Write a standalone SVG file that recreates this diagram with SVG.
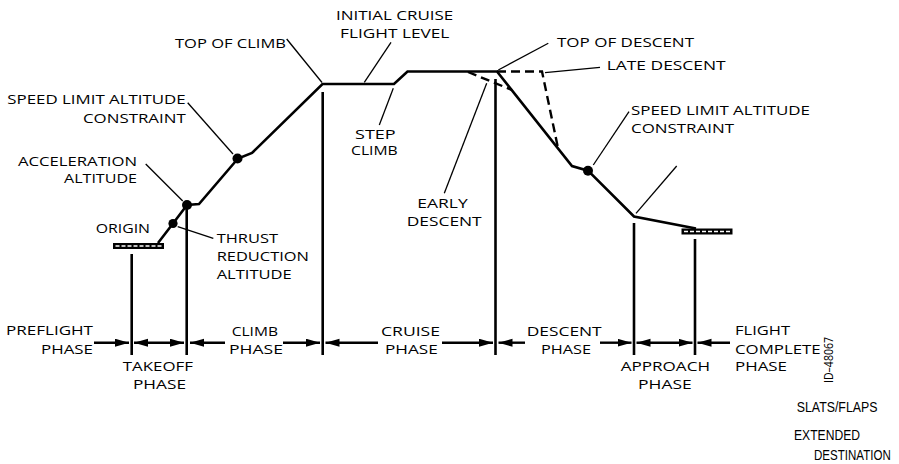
<svg xmlns="http://www.w3.org/2000/svg" width="899" height="464" viewBox="0 0 899 464">
<style>
  .t { font-family: "Open Sans", "DejaVu Sans", sans-serif; font-size: 13px; fill: #000; }
  .n { font-family: "Liberation Sans", Arial, sans-serif; font-size: 15px; fill: #000; }
  .prof { fill: none; stroke: #000; stroke-width: 2.6; stroke-linejoin: miter; }
  .dash { fill: none; stroke: #000; stroke-width: 2.4; stroke-dasharray: 9 5; }
  .vl { stroke: #000; stroke-width: 2.6; }
  .ld { stroke: #000; stroke-width: 1.3; fill: none; }
  .ar { stroke: #000; stroke-width: 2.4; fill: none; }
  .dot { fill: #000; }
</style>
<defs>
  <marker id="ah" markerUnits="userSpaceOnUse" markerWidth="15" markerHeight="9" refX="14" refY="4" orient="auto-start-reverse">
    <path d="M0,0 L14,4 L0,8 Z" fill="#000"/>
  </marker>
</defs>

<g id="profile">
  <path class="prof" d="M158,243 L173,223.5 L187,205 L199,204 L238,158.5 L252,153 L322.5,84 L394,84 L407.5,71.5 L497,71.5 L572,166 L588,170.7 L634,216.5 L696,228.5"/>
  <path class="dash" d="M468,72 L512,90"/>
  <path class="dash" d="M497,71.5 L542,71.5 L558,148"/>
  <circle class="dot" cx="173" cy="223.5" r="4.6"/>
  <circle class="dot" cx="187" cy="205" r="5"/>
  <circle class="dot" cx="237.5" cy="158.5" r="5"/>
  <circle class="dot" cx="588" cy="170.7" r="5"/>
</g>

<g id="origin-runway">
  <rect x="113" y="243" width="51" height="6" fill="#000"/>
  <line x1="115.5" y1="246" x2="162" y2="246" stroke="#fff" stroke-width="1.6" stroke-dasharray="4 2"/>
</g>
<g id="dest-runway">
  <rect x="681.5" y="228.5" width="51" height="6" fill="#000"/>
  <line x1="684" y1="231.5" x2="730.5" y2="231.5" stroke="#fff" stroke-width="1.6" stroke-dasharray="4 2"/>
</g>

<g id="connectors">
  <line class="vl" x1="131.7" y1="254" x2="131.7" y2="355"/>
  <line class="vl" x1="186.7" y1="205" x2="186.7" y2="355"/>
  <line class="vl" x1="322.7" y1="92" x2="322.7" y2="355"/>
  <line class="vl" x1="495.5" y1="79" x2="495.5" y2="355"/>
  <line class="vl" x1="634" y1="223" x2="634" y2="355"/>
  <line class="vl" x1="695" y1="239" x2="695" y2="355"/>

  <line class="ld" x1="286.7" y1="39" x2="322" y2="82.5"/>
  <line class="ld" x1="187.7" y1="102.7" x2="233" y2="154"/>
  <line class="ld" x1="145.7" y1="164" x2="182.7" y2="201"/>
  <line class="ld" x1="177.7" y1="226.7" x2="213.3" y2="238.3"/>
  <line class="ld" x1="391" y1="42.3" x2="364.3" y2="82.3"/>
  <line class="ld" x1="393.3" y1="88.3" x2="379.3" y2="125"/>
  <line class="ld" x1="498.3" y1="70" x2="548.3" y2="43.3"/>
  <line class="ld" x1="545" y1="72.7" x2="600" y2="67.3"/>
  <line class="ld" x1="486.7" y1="83.3" x2="444.3" y2="193.3"/>
  <line class="ld" x1="593.3" y1="165" x2="629" y2="111.7"/>
  <line class="ld" x1="636" y1="213.3" x2="676.7" y2="166"/>

  <line class="ar" x1="94" y1="342.7" x2="129" y2="342.7" marker-end="url(#ah)"/>
  <line class="ar" x1="134" y1="342.7" x2="184" y2="342.7" marker-start="url(#ah)" marker-end="url(#ah)"/>
  <line class="ar" x1="225" y1="342.7" x2="190" y2="342.7" marker-end="url(#ah)"/>
  <line class="ar" x1="283" y1="342.7" x2="320" y2="342.7" marker-end="url(#ah)"/>
  <line class="ar" x1="378" y1="342.7" x2="325.5" y2="342.7" marker-end="url(#ah)"/>
  <line class="ar" x1="442" y1="342.7" x2="493" y2="342.7" marker-end="url(#ah)"/>
  <line class="ar" x1="525" y1="342.7" x2="498.5" y2="342.7" marker-end="url(#ah)"/>
  <line class="ar" x1="600" y1="342.7" x2="631.5" y2="342.7" marker-end="url(#ah)"/>
  <line class="ar" x1="636.5" y1="342.7" x2="692.5" y2="342.7" marker-start="url(#ah)" marker-end="url(#ah)"/>
  <line class="ar" x1="730" y1="342.7" x2="697.5" y2="342.7" marker-end="url(#ah)"/>
</g>

<g id="labels-top">
  <text class="t" x="175" y="47.7" textLength="111" lengthAdjust="spacingAndGlyphs">TOP OF CLIMB</text>
  <text class="t" x="7.3" y="104.3" textLength="178.4" lengthAdjust="spacingAndGlyphs">SPEED LIMIT ALTITUDE</text>
  <text class="t" x="83" y="122.7" textLength="102.7" lengthAdjust="spacingAndGlyphs">CONSTRAINT</text>
  <text class="t" x="18" y="165.7" textLength="119" lengthAdjust="spacingAndGlyphs">ACCELERATION</text>
  <text class="t" x="64" y="183.3" textLength="73" lengthAdjust="spacingAndGlyphs">ALTITUDE</text>
  <text class="t" x="95.7" y="233.3" textLength="54.3" lengthAdjust="spacingAndGlyphs">ORIGIN</text>
  <text class="t" x="216.7" y="242.7" textLength="61.3" lengthAdjust="spacingAndGlyphs">THRUST</text>
  <text class="t" x="216.7" y="261" textLength="92.3" lengthAdjust="spacingAndGlyphs">REDUCTION</text>
  <text class="t" x="216.7" y="279" textLength="75" lengthAdjust="spacingAndGlyphs">ALTITUDE</text>
  <text class="t" x="336" y="20" textLength="117.3" lengthAdjust="spacingAndGlyphs">INITIAL CRUISE</text>
  <text class="t" x="340" y="38.3" textLength="109.3" lengthAdjust="spacingAndGlyphs">FLIGHT LEVEL</text>
  <text class="t" x="355" y="138.8" textLength="40.7" lengthAdjust="spacingAndGlyphs">STEP</text>
  <text class="t" x="351" y="155.3" textLength="46.7" lengthAdjust="spacingAndGlyphs">CLIMB</text>
  <text class="t" x="557" y="47" textLength="137" lengthAdjust="spacingAndGlyphs">TOP OF DESCENT</text>
  <text class="t" x="606.7" y="70" textLength="119" lengthAdjust="spacingAndGlyphs">LATE DESCENT</text>
  <text class="t" x="417.3" y="208.3" textLength="50.4" lengthAdjust="spacingAndGlyphs">EARLY</text>
  <text class="t" x="406.7" y="225.7" textLength="75" lengthAdjust="spacingAndGlyphs">DESCENT</text>
  <text class="t" x="631" y="115" textLength="179" lengthAdjust="spacingAndGlyphs">SPEED LIMIT ALTITUDE</text>
  <text class="t" x="631" y="133.3" textLength="103" lengthAdjust="spacingAndGlyphs">CONSTRAINT</text>
</g>

<g id="labels-phases">
  <text class="t" x="6" y="335" textLength="87" lengthAdjust="spacingAndGlyphs">PREFLIGHT</text>
  <text class="t" x="41" y="354" textLength="52" lengthAdjust="spacingAndGlyphs">PHASE</text>
  <text class="t" x="122.7" y="370.7" textLength="70.3" lengthAdjust="spacingAndGlyphs">TAKEOFF</text>
  <text class="t" x="133" y="389" textLength="53" lengthAdjust="spacingAndGlyphs">PHASE</text>
  <text class="t" x="231.7" y="335.7" textLength="46.3" lengthAdjust="spacingAndGlyphs">CLIMB</text>
  <text class="t" x="229" y="354" textLength="54" lengthAdjust="spacingAndGlyphs">PHASE</text>
  <text class="t" x="381" y="335.7" textLength="59" lengthAdjust="spacingAndGlyphs">CRUISE</text>
  <text class="t" x="385" y="354" textLength="52.7" lengthAdjust="spacingAndGlyphs">PHASE</text>
  <text class="t" x="526.7" y="335.7" textLength="75" lengthAdjust="spacingAndGlyphs">DESCENT</text>
  <text class="t" x="541" y="354" textLength="50" lengthAdjust="spacingAndGlyphs">PHASE</text>
  <text class="t" x="620.7" y="371" textLength="89.3" lengthAdjust="spacingAndGlyphs">APPROACH</text>
  <text class="t" x="638" y="389" textLength="53.7" lengthAdjust="spacingAndGlyphs">PHASE</text>
  <text class="t" x="735" y="335" textLength="55" lengthAdjust="spacingAndGlyphs">FLIGHT</text>
  <text class="t" x="735" y="354" textLength="85.7" lengthAdjust="spacingAndGlyphs">COMPLETE</text>
  <text class="t" x="735" y="371" textLength="52" lengthAdjust="spacingAndGlyphs">PHASE</text>
  <text class="t" transform="translate(832.5,383) rotate(-90)" x="0" y="0" font-size="12" textLength="46" lengthAdjust="spacingAndGlyphs">ID–48067</text>
</g>

<g id="labels-extra">
  <text class="n" transform="translate(796.7,412) scale(0.8,1)" x="0" y="0" textLength="101" lengthAdjust="spacingAndGlyphs">SLATS/FLAPS</text>
  <text class="n" transform="translate(794,440) scale(0.8,1)" x="0" y="0" textLength="82.5" lengthAdjust="spacingAndGlyphs">EXTENDED</text>
  <text class="n" transform="translate(814,460) scale(0.8,1)" x="0" y="0" textLength="96" lengthAdjust="spacingAndGlyphs">DESTINATION</text>
</g>
</svg>
